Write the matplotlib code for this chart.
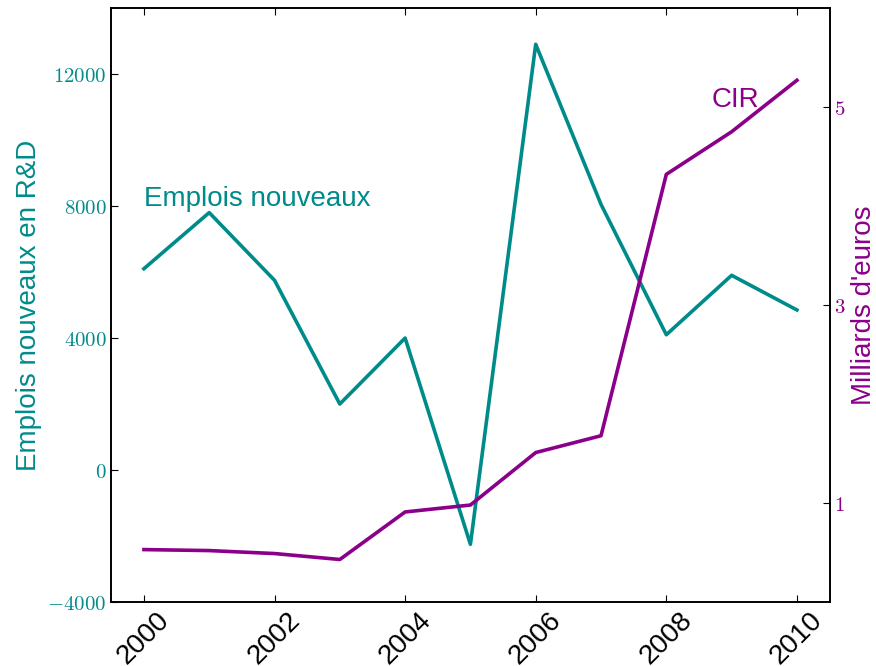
import matplotlib
matplotlib.use('Agg')
import matplotlib.pyplot as plt
from matplotlib.ticker import FuncFormatter

plt.rcParams['font.family'] = ['Liberation Sans', 'DejaVu Sans']
plt.rcParams['mathtext.fontset'] = 'cm'

annees = [2000, 2001, 2002, 2003, 2004, 2005, 2006, 2007, 2008, 2009, 2010]
emplois = [6100, 7800, 5750, 2000, 4000, -2250, 12900, 8050, 4100, 5900, 4850]
cir = [0.53, 0.52, 0.49, 0.43, 0.91, 0.98, 1.51, 1.68, 4.32, 4.75, 5.27]

teal = '#008B8B'
violet = '#8B008B'

def math_fmt(v, pos):
    return r'$%d$' % v

fig = plt.figure(figsize=(8.76, 6.66), dpi=100)
ax = fig.add_axes([0.127, 0.096, 0.82, 0.892])
ax2 = ax.twinx()

ax.plot(annees, emplois, color=teal, lw=2.6)
ax2.plot(annees, cir, color=violet, lw=2.6)

ax.set_xlim(1999.5, 2010.5)
ax.set_ylim(-4000, 14000)
ax2.set_ylim(0, 6)

ax.set_xticks([2000, 2002, 2004, 2006, 2008, 2010])
ax.set_yticks([-4000, 0, 4000, 8000, 12000])
ax2.set_yticks([1, 3, 5])
ax.yaxis.set_major_formatter(FuncFormatter(math_fmt))
ax2.yaxis.set_major_formatter(FuncFormatter(math_fmt))

ax.tick_params(axis='x', direction='in', top=True, labelsize=20, labelrotation=45, length=5)
ax.tick_params(axis='y', direction='in', labelsize=15, labelcolor=teal, length=5)
ax2.tick_params(axis='y', direction='in', labelsize=15, labelcolor=violet, length=5)

for sp in list(ax.spines.values()) + list(ax2.spines.values()):
    sp.set_linewidth(1.2)

ax.set_ylabel('Emplois nouveaux en R&D', color=teal, fontsize=20)
ax2.set_ylabel("Milliards d'euros", color=violet, fontsize=20)

ax.text(2000, 8000, 'Emplois nouveaux', color=teal, fontsize=20)
ax2.text(2008.7, 5.0, 'CIR', color=violet, fontsize=20)

plt.savefig('out.png', dpi=100)
